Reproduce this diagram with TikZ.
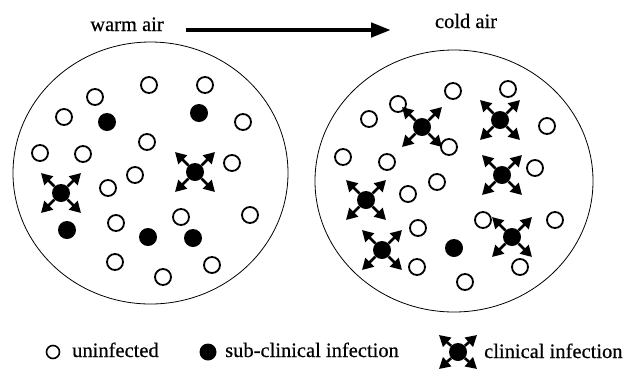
\documentclass[tikz,border=0pt]{standalone}
\usepackage{fontspec}
\setmainfont{Liberation Serif}
\newfontfamily\lblfont[FakeBold=0.5]{Liberation Serif}
\usetikzlibrary{arrows.meta}
\tikzset{
  unf/.style={circle, draw, line width=1.8pt, minimum size=16pt, inner sep=0pt},
  sub/.style={circle, fill=black, minimum size=18pt, inner sep=0pt},
  clin/.style={circle, fill=black, minimum size=18pt, inner sep=0pt},
  spread/.style={line width=2.6pt, -{Triangle[length=11pt,width=12pt]}},
  lbl/.style={font=\lblfont\fontsize{20.5}{24}\selectfont, anchor=base, inner sep=0pt},
  region/.style={draw, line width=0.8pt},
}
\newcommand{\clinical}[5]{% name, x, y, dx, dy
  \node[clin] (#1) at (#2,#3) {};
  \draw[spread] (#1) -- ++(#4,#5);
  \draw[spread] (#1) -- ++(-#4,#5);
  \draw[spread] (#1) -- ++(#4,-#5);
  \draw[spread] (#1) -- ++(-#4,-#5);
}
\begin{document}
\begin{tikzpicture}[x=1pt, y=-1pt]
\useasboundingbox (0,0) rectangle (628,376);
% titles and arrow
\node[lbl] (warm) at (127,31) {warm air};
\node[lbl] (cold) at (466,28) {cold air};
\coordinate (a0) at (186,30);
\coordinate (a1) at (391,30);
\draw[line width=4.5pt, -{Triangle[length=20pt,width=14pt]}] (a0) -- (a1);
% regions
\draw[region] (150.5,173) ellipse [x radius=137.5, y radius=131];
\draw[region] (454,181) ellipse [x radius=139, y radius=131];
% left region: uninfected
\node[unf] (L1) at (149,85) {};
\node[unf] (L2) at (205,85) {};
\node[unf] (L3) at (95,97) {};
\node[unf] (L4) at (64,117) {};
\node[unf] (L5) at (243,122) {};
\node[unf] (L6) at (147,142) {};
\node[unf] (L7) at (40,153) {};
\node[unf] (L8) at (83,154) {};
\node[unf] (L9) at (135,175) {};
\node[unf] (L10) at (232,163) {};
\node[unf] (L11) at (108,188) {};
\node[unf] (L12) at (250,215) {};
\node[unf] (L13) at (181,217) {};
\node[unf] (L14) at (116,223) {};
\node[unf] (L15) at (115,262) {};
\node[unf] (L16) at (212,265) {};
\node[unf] (L17) at (163,277) {};
% left region: sub-clinical
\node[sub] (LS1) at (107,122) {};
\node[sub] (LS2) at (199,113) {};
\node[sub] (LS3) at (67,230) {};
\node[sub] (LS4) at (148,237) {};
\node[sub] (LS5) at (193,238) {};
% left region: clinical
\clinical{LC1}{61}{193}{20}{20}
\clinical{LC2}{195}{172}{20}{20}
% right region: uninfected
\node[unf] (R1) at (453,91) {};
\node[unf] (R2) at (508,89) {};
\node[unf] (R3) at (398,104) {};
\node[unf] (R4) at (369,119) {};
\node[unf] (R5) at (547,126) {};
\node[unf] (R6) at (449,147) {};
\node[unf] (R7) at (343,157) {};
\node[unf] (R8) at (387,162) {};
\node[unf] (R9) at (535,168) {};
\node[unf] (R10) at (437,182) {};
\node[unf] (R11) at (408,194) {};
\node[unf] (R12) at (555,220) {};
\node[unf] (R13) at (483,220) {};
\node[unf] (R14) at (418,228) {};
\node[unf] (R15) at (417,267) {};
\node[unf] (R16) at (520,267) {};
\node[unf] (R17) at (465,282) {};
% right region: sub-clinical
\node[sub] (RS1) at (454,248) {};
% right region: clinical
\clinical{RC1}{422}{127}{20}{20}
\clinical{RC2}{500}{120}{20}{20}
\clinical{RC3}{502}{175}{20}{20}
\clinical{RC4}{366}{200}{20}{20}
\clinical{RC5}{382}{250}{20}{20}
\clinical{RC6}{512}{237}{20}{20}
% legend
\node[unf, minimum size=13pt, line width=1.6pt] (KU) at (53,352) {};
\node[lbl, anchor=base west] (KUt) at (72,357) {uninfected};
\node[sub, minimum size=17pt] (KS) at (208,352) {};
\node[lbl, anchor=base west] (KSt) at (225,357) {sub-clinical infection};
\clinical{KC}{458}{352}{19}{17}
\node[lbl, anchor=base west] (KCt) at (484,358) {clinical infection};
\end{tikzpicture}
\end{document}
